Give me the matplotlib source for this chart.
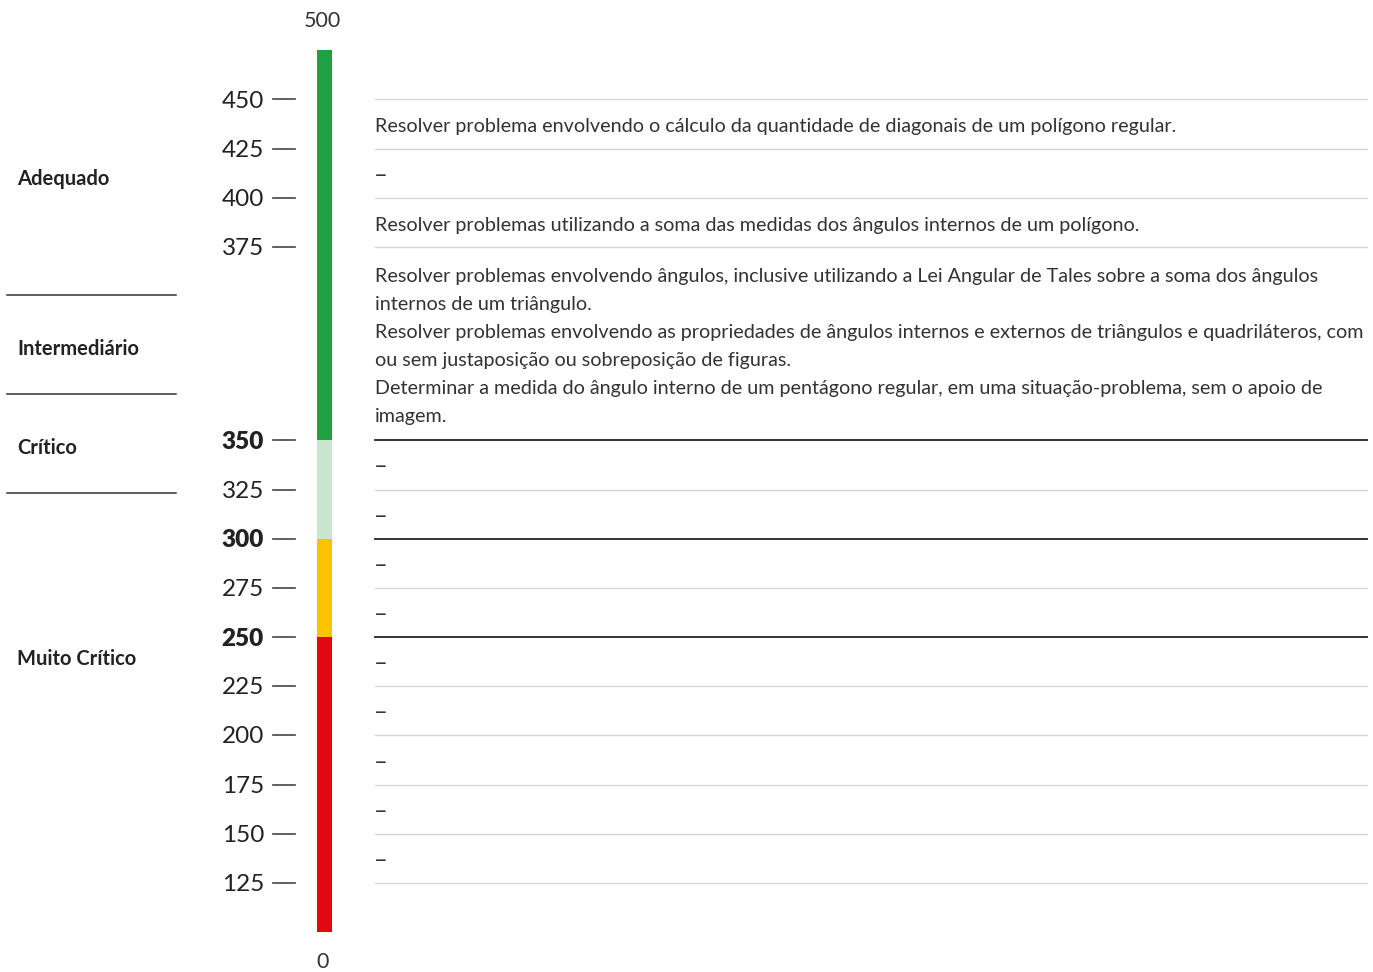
import numpy as np
import matplotlib.pyplot as plt

# -----------------------------------------------------------------------------
# DATA
# -----------------------------------------------------------------------------
# score bands on the scale (one row per band, top to bottom)
band_hi = [450, 425, 400, 375, 350, 325, 300, 275, 250, 225, 200, 175, 150]
band_lo = [425, 400, 375, 350, 325, 300, 275, 250, 225, 200, 175, 150, 125]
band_text = [
    "Resolver problema envolvendo o cálculo da quantidade de diagonais de um polígono regular.",
    "–",
    "Resolver problemas utilizando a soma das medidas dos ângulos internos de um polígono.",
    "Resolver problemas envolvendo ângulos, inclusive utilizando a Lei Angular de Tales sobre a soma dos ângulos\n"
    "internos de um triângulo.\n"
    "Resolver problemas envolvendo as propriedades de ângulos internos e externos de triângulos e quadriláteros, com\n"
    "ou sem justaposição ou sobreposição de figuras.\n"
    "Determinar a medida do ângulo interno de um pentágono regular, em uma situação-problema, sem o apoio de\n"
    "imagem.",
    "–", "–", "–", "–", "–", "–", "–", "–", "–",
]

# coloured segments of the scale bar
seg_lo = [350, 300, 250, 0]
seg_hi = [500, 350, 300, 250]
seg_color = ["#20a045", "#c9e5cd", "#fdc300", "#e30613"]

tick_values = [450, 425, 400, 375, 350, 325, 300, 275, 250, 225, 200, 175, 150, 125]
bold_ticks = [350, 300, 250]
dark_lines = [350, 300, 250]

levels = ["Adequado", "Intermediário", "Crítico", "Muito Crítico"]
level_y = [177, 347, 446, 657]
level_sep = [295, 394, 493]

# -----------------------------------------------------------------------------
# SCALE: score -> vertical pixel, rows grow with number of text lines
# -----------------------------------------------------------------------------
W, H = 1373, 972
TOP = 50
LINE_H = 28.8
PAD = 20.4

knots_s = [500, 450]
knots_p = [TOP, TOP + 49.5]
for lo, txt in zip(band_lo, band_text):
    n = txt.count("\n") + 1
    knots_s.append(lo)
    knots_p.append(knots_p[-1] + PAD + LINE_H * n)
knots_s.append(0)
knots_p.append(knots_p[-1] + 49)

ks = np.array(knots_s[::-1], dtype=float)
kp = np.array(knots_p[::-1], dtype=float)


def ypix(score):
    return np.interp(score, ks, kp)


FONT = "Lato"
NUMFONT = "Lato"
TXT = "#333333"

fig = plt.figure(figsize=(W / 100, H / 100), dpi=100)
ax = fig.add_axes([0, 0, 1, 1])
ax.set_xlim(0, W)
ax.set_ylim(H, 0)
ax.axis("off")

# scale bar
bar_x, bar_w = 324.5, 15
for lo, hi, c in zip(seg_lo, seg_hi, seg_color):
    ax.bar(bar_x, ypix(lo) - ypix(hi), width=bar_w, bottom=ypix(hi), color=c, linewidth=0)

ax.text(bar_x - 2, TOP - 29, "500", ha="center", va="center", fontsize=15.5,
        family=NUMFONT, color=TXT)
ax.text(bar_x - 2, ypix(0) + 30, "0", ha="center", va="center", fontsize=15.5,
        family=NUMFONT, color=TXT)

for t in tick_values:
    y = ypix(t)
    ax.plot([273, 295], [y, y], color="#444444", lw=1.2)
    ax.text(264, y + 1.5, str(t), ha="right", va="center", fontsize=17.5, family=NUMFONT,
            color="#222222", fontweight="heavy" if t in bold_ticks else "normal")

# rows on the right
x0, x1 = 375, 1367
row_edges = sorted(set(band_hi + band_lo), reverse=True)
for s in row_edges:
    y = ypix(s)
    if s in dark_lines:
        ax.plot([x0, x1], [y, y], color="#222222", lw=1.3)
    else:
        ax.plot([x0, x1], [y, y], color="#d6d6d6", lw=1.0)

for hi, lo, txt in zip(band_hi, band_lo, band_text):
    yc = (ypix(hi) + ypix(lo)) / 2
    if txt == "–":
        # lone dash drawn a bit larger, as in the source layout
        ax.text(x0 - 1, yc + 2, txt, ha="left", va="center", fontsize=17,
                family=FONT, color=TXT)
    else:
        ax.text(x0, yc + 2.5, txt, ha="left", va="center", fontsize=14.2, family=FONT,
                color=TXT, linespacing=1.78)

# performance levels on the left
for name, y in zip(levels, level_y):
    ax.text(17, y + 2, name, ha="left", va="center", fontsize=14.5, family=FONT,
            fontweight="bold", color="#222222")
for y in level_sep:
    ax.plot([7, 176], [y, y], color="#333333", lw=1.1)

fig.savefig("out.png", dpi=100)
